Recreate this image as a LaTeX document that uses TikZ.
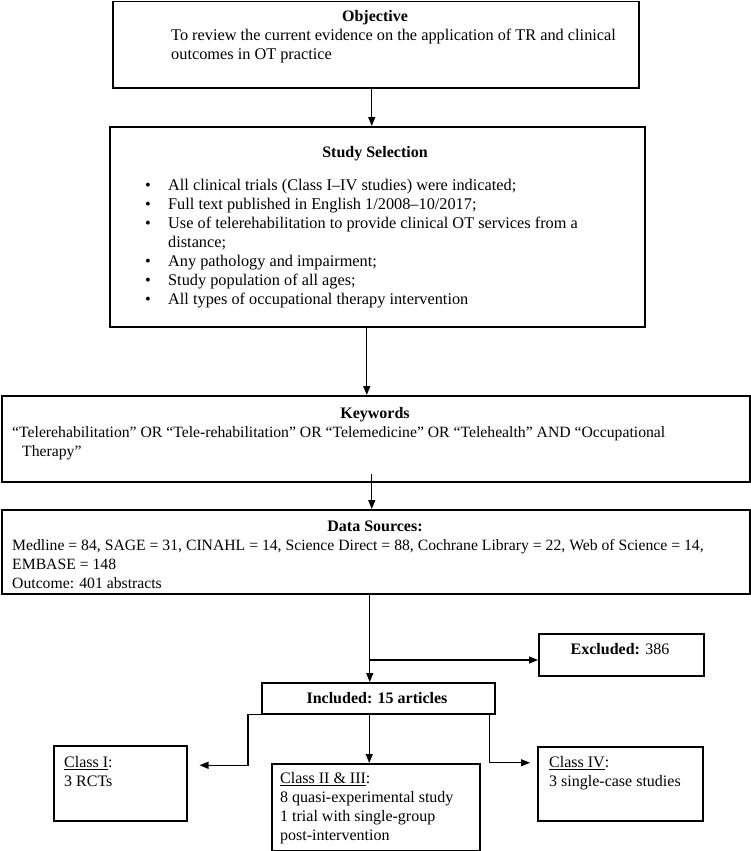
\documentclass[tikz,border=0pt]{standalone}
\usepackage{fontspec}
\setmainfont{Liberation Serif}
\usetikzlibrary{
    arrows.meta,
    positioning,
    calc
}
\tikzset{
  flowbox/.style = {draw, line width=1.5pt, inner sep=0pt, anchor=north west},
  ttl/.style     = {font=\fontsize{16}{19}\selectfont\bfseries, inner sep=0pt,
                    anchor=base},
  txt/.style     = {font=\fontsize{16}{19}\selectfont, align=left,
                    inner sep=0pt, anchor=north west},
  wide/.style    = {font=\fontsize{15.7}{19}\selectfont},
  roomy/.style   = {font=\fontsize{16.3}{19}\selectfont},
  arr/.style     = {-{Triangle[length=9pt,width=7pt]}, line width=1.2pt}
}
\newcommand{\bul}{\makebox[23pt][l]{\textbullet}}
\newcommand{\nobul}{\hspace*{23pt}}

\begin{document}
\begin{tikzpicture}[x=1pt, y=-1pt]
\useasboundingbox (0,0) rectangle (750,851);

%% --- Boxes ---
\node[flowbox, minimum width=526pt, minimum height=86pt]  (obj) at (112,1)   {};
\node[flowbox, minimum width=535pt, minimum height=200pt] (sel) at (109,126) {};
\node[flowbox, minimum width=748pt, minimum height=86pt]  (kw)  at (1,395)   {};
\node[flowbox, minimum width=748pt, minimum height=84pt]  (ds)  at (1,509)   {};
\node[flowbox, minimum width=165pt, minimum height=42pt]  (exc) at (538,633) {};
\node[flowbox, minimum width=233pt, minimum height=31pt]  (inc) at (261,682) {};
\node[flowbox, minimum width=133pt, minimum height=75pt]  (c1)  at (53,745)  {};
\node[flowbox, minimum width=208pt, minimum height=87pt]  (c23) at (271,763) {};
\node[flowbox, minimum width=165pt, minimum height=74pt]  (c4)  at (537,746) {};

%% --- Texts ---
\node[ttl] (obj-t) at (375,22) {Objective};
\node[txt, roomy] (obj-b) at (171,29) {%
  To review the current evidence on the application of TR and clinical\\
  outcomes in OT practice};

\node[ttl] (sel-t) at (375,157) {Study Selection};
\node[txt, roomy] (sel-b) at (145,179) {%
  \bul All clinical trials (Class I–IV studies) were indicated;\\
  \bul Full text published in English 1/2008–10/2017;\\
  \bul Use of telerehabilitation to provide clinical OT services from a\\
  \nobul distance;\\
  \bul Any pathology and impairment;\\
  \bul Study population of all ages;\\
  \bul All types of occupational therapy intervention};

\node[ttl] (kw-t) at (375,418) {Keywords};
\node[txt, wide] (kw-b) at (12,426) {%
  “Telerehabilitation” OR “Tele-rehabilitation” OR “Telemedicine” OR
  “Telehealth” AND “Occupational\\
  \hspace*{10pt}Therapy”};

\node[ttl] (ds-t) at (375,531) {Data Sources:};
\node[txt, wide] (ds-b) at (12,539) {%
  Medline = 84, SAGE = 31, CINAHL = 14, Science Direct = 88, Cochrane
  Library = 22, Web of Science = 14,\\
  EMBASE = 148\\
  Outcome: 401 abstracts};

\node[ttl, font=\fontsize{16}{19}\selectfont] (exc-t) at (620,654)
  {\textbf{Excluded:} 386};
\node[ttl] (inc-t) at (377,703) {Included: 15 articles};

\node[txt] (c1-b)  at (64,756)  {\underline{Class I}:\\3 RCTs};
\node[txt] (c23-b) at (280,772) {%
  \underline{Class II \& III}:\\
  8 quasi-experimental study\\
  1 trial with single-group\\
  post-intervention};
\node[txt] (c4-b)  at (549,756) {\underline{Class IV}:\\3 single-case studies};

%% --- Arrows down the main column ---
\draw[arr] ([xshift=-4pt]obj.south) -- ([xshift=-4pt]obj.south |- sel.north);
\draw[arr] ([xshift=-10.5pt]sel.south) -- ([xshift=-10.5pt]sel.south |- kw.north);
\draw[arr] ([xshift=-4pt,yshift=9pt]kw.south) -- ([xshift=-4pt]kw.south |- ds.north);
\draw[arr] ([xshift=-8.5pt]inc.north |- ds.south) -- ([xshift=-8.5pt]inc.north);

%% --- Excluded branch ---
\coordinate (split) at ([xshift=-8.5pt]inc.north |- 0,660);
\draw[arr] (split) -- (split -| exc.west);

%% --- Included -> classes ---
\draw[arr, shorten >=12pt] (inc.south west) -- ++(-13,0) |- ([yshift=18pt]c1.east);
\draw[arr] ([xshift=-9pt]inc.south) -- ([xshift=-9pt]inc.south |- c23.north);
\draw[arr, shorten >=7pt] ([xshift=-6pt]inc.south east) |- ([yshift=21pt]c4.west);

\end{tikzpicture}
\end{document}
